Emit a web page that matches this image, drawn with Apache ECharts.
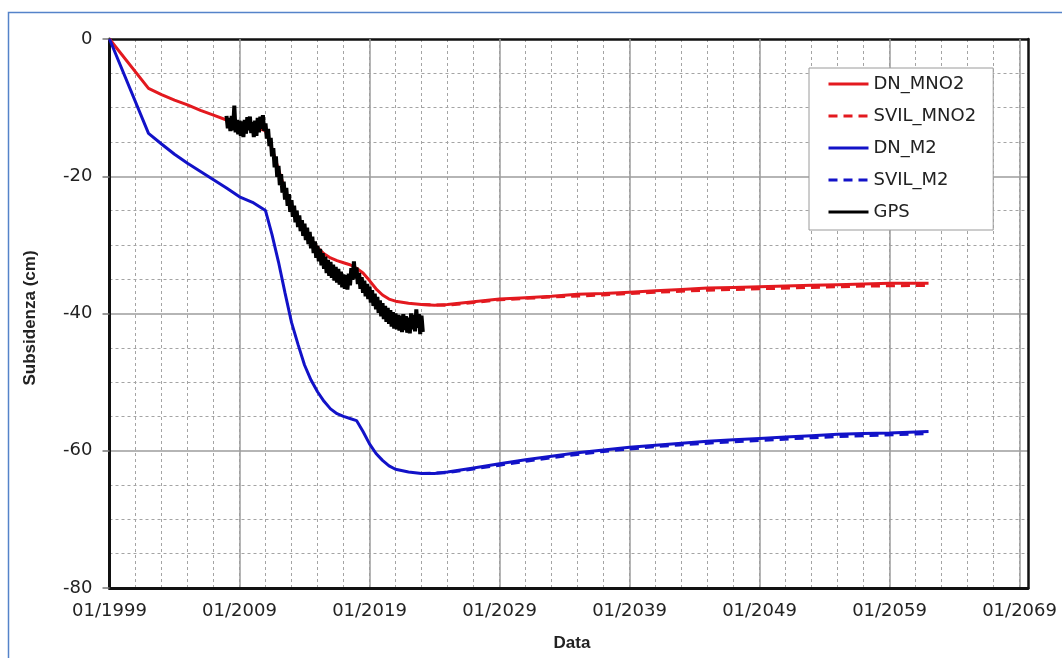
<!DOCTYPE html>
<html>
<head>
<meta charset="utf-8">
<script src="https://cdn.jsdelivr.net/npm/echarts@6/dist/echarts.min.js"></script>
<style>html,body{margin:0;padding:0;background:#fff}#c{width:1062px;height:658px}</style>
</head>
<body>
<div id="c"></div>
<script>
// ---- data (decimal years, subsidence in cm) ----
const xTickYears = [1999, 2009, 2019, 2029, 2039, 2049, 2059, 2069];
const yTicks = [0, -20, -40, -60, -80];

const dnMNO2Years = [1999.0, 2002.0, 2003.0, 2004.0, 2005.0, 2006.0, 2007.0, 2008.0, 2009.0, 2010.0, 2011.0, 2011.5, 2012.0, 2012.5, 2013.0, 2013.5, 2014.0, 2014.5, 2015.0, 2015.5, 2016.0, 2016.5, 2017.0, 2017.5, 2018.0, 2018.5, 2019.0, 2019.5, 2020.0, 2020.5, 2021.0, 2022.0, 2023.0, 2024.0, 2025.0, 2027.0, 2029.0, 2031.0, 2033.0, 2035.0, 2037.0, 2039.0, 2041.0, 2043.0, 2045.0, 2047.0, 2049.0, 2051.0, 2053.0, 2055.0, 2057.0, 2059.0, 2062.0];
const dnMNO2 = [0, -7.2, -8.1, -8.9, -9.6, -10.4, -11.1, -11.8, -12.3, -12.7, -13.4, -16.0, -19.0, -22.0, -24.3, -26.2, -27.8, -29.2, -30.4, -31.3, -31.9, -32.3, -32.6, -32.9, -33.4, -34.1, -35.2, -36.4, -37.3, -37.9, -38.2, -38.5, -38.7, -38.8, -38.7, -38.3, -37.9, -37.7, -37.5, -37.2, -37.1, -36.9, -36.7, -36.5, -36.3, -36.2, -36.1, -36.0, -35.9, -35.8, -35.7, -35.6, -35.6];

const svilMNO2Years = [2023.0, 2025.0, 2027.0, 2029.0, 2033.0, 2037.0, 2041.0, 2045.0, 2049.0, 2053.0, 2057.0, 2062.0];
const svilMNO2 = [-38.7, -38.8, -38.4, -38.0, -37.6, -37.3, -36.9, -36.6, -36.4, -36.2, -36.0, -35.9];

const dnM2Years = [1999.0, 2002.0, 2003.0, 2004.0, 2005.0, 2006.0, 2007.0, 2008.0, 2009.0, 2010.0, 2011.0, 2011.5, 2012.0, 2012.5, 2013.0, 2013.5, 2014.0, 2014.5, 2015.0, 2015.5, 2016.0, 2016.5, 2017.0, 2017.5, 2018.0, 2018.5, 2019.0, 2019.5, 2020.0, 2020.5, 2021.0, 2022.0, 2023.0, 2024.0, 2025.0, 2027.0, 2029.0, 2031.0, 2033.0, 2035.0, 2037.0, 2039.0, 2041.0, 2043.0, 2045.0, 2047.0, 2049.0, 2051.0, 2053.0, 2055.0, 2057.0, 2059.0, 2062.0];
const dnM2 = [0, -13.75, -15.3, -16.8, -18.1, -19.3, -20.5, -21.7, -23.0, -23.8, -25.0, -28.5, -32.5, -37.0, -41.3, -44.5, -47.5, -49.7, -51.4, -52.8, -53.9, -54.6, -55.0, -55.3, -55.6, -57.2, -59.0, -60.4, -61.4, -62.2, -62.7, -63.1, -63.3, -63.3, -63.1, -62.5, -61.9, -61.3, -60.8, -60.3, -59.9, -59.5, -59.2, -58.9, -58.6, -58.4, -58.2, -58.0, -57.8, -57.6, -57.5, -57.4, -57.2];

const svilM2Years = [2023.0, 2025.0, 2029.0, 2033.0, 2037.0, 2041.0, 2045.0, 2049.0, 2053.0, 2057.0, 2062.0];
const svilM2 = [-63.3, -63.2, -62.1, -61.0, -60.1, -59.4, -58.9, -58.5, -58.1, -57.8, -57.5];

const gpsYears = [
  2008.0, 2008.1, 2008.2, 2008.3, 2008.4, 2008.5, 2008.6, 2008.7, 2008.8, 2008.9,
  2009.0, 2009.1, 2009.2, 2009.3, 2009.4, 2009.5, 2009.6, 2009.7, 2009.8, 2009.9,
  2010.0, 2010.1, 2010.2, 2010.3, 2010.4, 2010.5, 2010.6, 2010.7, 2010.8, 2010.9,
  2011.0, 2011.1, 2011.2, 2011.3, 2011.4, 2011.5, 2011.6, 2011.7, 2011.8, 2011.9,
  2012.0, 2012.1, 2012.2, 2012.3, 2012.4, 2012.5, 2012.6, 2012.7, 2012.8, 2012.9,
  2013.0, 2013.1, 2013.2, 2013.3, 2013.4, 2013.5, 2013.6, 2013.7, 2013.8, 2013.9,
  2014.0, 2014.1, 2014.2, 2014.3, 2014.4, 2014.5, 2014.6, 2014.7, 2014.8, 2014.9,
  2015.0, 2015.1, 2015.2, 2015.3, 2015.4, 2015.5, 2015.6, 2015.7, 2015.8, 2015.9,
  2016.0, 2016.1, 2016.2, 2016.3, 2016.4, 2016.5, 2016.6, 2016.7, 2016.8, 2016.9,
  2017.0, 2017.1, 2017.2, 2017.3, 2017.4, 2017.5, 2017.6, 2017.7, 2017.8, 2017.9,
  2018.0, 2018.1, 2018.2, 2018.3, 2018.4, 2018.5, 2018.6, 2018.7, 2018.8, 2018.9,
  2019.0, 2019.1, 2019.2, 2019.3, 2019.4, 2019.5, 2019.6, 2019.7, 2019.8, 2019.9,
  2020.0, 2020.1, 2020.2, 2020.3, 2020.4, 2020.5, 2020.6, 2020.7, 2020.8, 2020.9,
  2021.0, 2021.1, 2021.2, 2021.3, 2021.4, 2021.5, 2021.6, 2021.7, 2021.8, 2021.9,
  2022.0, 2022.1, 2022.2, 2022.3, 2022.4, 2022.5, 2022.6, 2022.7, 2022.8, 2022.9,
  2023.0, 2023.1];
const gps = [
  -11.2, -13.0, -11.5, -13.4, -11.2, -13.3, -9.7, -13.6, -11.8, -13.9,
  -11.9, -14.1, -12.0, -14.3, -11.8, -13.8, -11.4, -13.3, -11.3, -13.7,
  -12.1, -14.3, -11.9, -14.1, -11.5, -13.6, -11.3, -13.1, -11.1, -13.4,
  -12.3, -14.5, -13.1, -15.6, -14.4, -17.1, -15.9, -18.7, -17.1, -20.1,
  -18.5, -21.3, -19.7, -22.4, -20.8, -23.4, -21.7, -24.3, -22.6, -25.2,
  -23.5, -25.9, -24.3, -26.7, -25.0, -27.4, -25.7, -28.0, -26.4, -28.7,
  -26.9, -29.3, -27.5, -29.9, -28.1, -30.5, -28.8, -31.2, -29.5, -31.9,
  -30.1, -32.4, -30.6, -33.0, -31.2, -33.5, -31.7, -34.1, -32.2, -34.5,
  -32.5, -34.8, -32.9, -35.2, -33.2, -35.5, -33.5, -35.8, -33.9, -36.2,
  -34.3, -36.4, -34.4, -36.5, -34.2, -35.9, -33.4, -35.1, -32.4, -34.9,
  -33.3, -35.7, -34.1, -36.4, -34.7, -37.0, -35.2, -37.5, -35.7, -37.9,
  -36.1, -38.4, -36.6, -38.9, -37.1, -39.4, -37.6, -39.9, -38.1, -40.4,
  -38.5, -40.8, -38.9, -41.2, -39.2, -41.5, -39.5, -41.9, -39.8, -42.2,
  -40.0, -42.3, -40.2, -42.5, -40.3, -42.7, -40.1, -42.4, -40.4, -42.8,
  -40.6, -42.9, -40.0, -42.3, -40.2, -42.6, -39.4, -42.1, -40.1, -43.0,
  -40.3, -42.7];

function pairs(xs, ys) { return xs.map((x, i) => [x, ys[i]]); }

const RED = '#e3191f';
const BLUE = '#1212c8';
const FONT = 'DejaVu Sans';
const X_MIN = xTickYears[0];
const X_MAX = 2069.65;

const chart = echarts.init(document.getElementById('c'), null, { renderer: 'canvas' });

const majorGrid = { show: true, showMinLine: false, showMaxLine: false, lineStyle: { color: '#9c9c9c', width: 1.5, type: 'solid' } };
const minorDash = { color: '#a4a4a4', width: 1, type: [3, 3] };

chart.setOption({
  backgroundColor: '#ffffff',
  animation: false,
  grid: { left: 109.5, top: 39, right: 34, bottom: 70, containLabel: false },
  graphic: [
    { type: 'rect', z: -10, shape: { x: 8.5, y: 12.5, width: 1070, height: 700 }, style: { fill: 'none', stroke: '#5583c9', lineWidth: 1.5 } },
    { type: 'text', position: [572, 643], style: { text: 'Data', fontFamily: 'Liberation Sans', fontWeight: 'bold', fontSize: 17, fill: '#222', textAlign: 'center', textVerticalAlign: 'middle' } },
    { type: 'text', rotation: Math.PI / 2, position: [30, 318], style: { text: 'Subsidenza (cm)', fontFamily: 'Liberation Sans', fontWeight: 'bold', fontSize: 17, fill: '#222', textAlign: 'center', textVerticalAlign: 'middle' } }
  ],
  legend: {
    orient: 'vertical',
    left: 809, top: 68,
    backgroundColor: '#ffffff',
    borderColor: '#9a9a9a', borderWidth: 1,
    padding: [6, 17, 8, 18],
    itemWidth: 40, itemHeight: 14, itemGap: 12,
    itemStyle: { opacity: 0, borderWidth: 0 },
    lineStyle: { width: 3 },
    textStyle: { fontFamily: FONT, fontSize: 18, color: '#222', lineHeight: 20 },
    data: ['DN_MNO2', 'SVIL_MNO2', 'DN_M2', 'SVIL_M2', 'GPS']
  },
  xAxis: [
    {
      type: 'value', min: X_MIN, max: X_MAX, interval: 10, position: 'bottom', z: 2,
      axisLine: { show: true, onZero: false, lineStyle: { color: '#111', width: 3 } },
      axisTick: { show: false },
      axisLabel: {
        margin: 14, fontFamily: FONT, fontSize: 18, color: '#222',
        formatter: v => (xTickYears.indexOf(Math.round(v)) >= 0 && Math.abs(v - Math.round(v)) < 1e-6) ? '01/' + Math.round(v) : ''
      },
      splitLine: majorGrid
    },
    {
      type: 'value', min: X_MIN, max: X_MAX, interval: 2, position: 'top', z: 1,
      axisLine: { show: true, onZero: false, lineStyle: { color: '#111', width: 2.5 } },
      axisTick: { show: false },
      axisLabel: { show: false },
      splitLine: { show: true, showMinLine: false, showMaxLine: false, lineStyle: minorDash }
    }
  ],
  yAxis: [
    {
      type: 'value', min: yTicks[yTicks.length - 1], max: yTicks[0], interval: 20, position: 'left', z: 2,
      axisLine: { show: true, onZero: false, lineStyle: { color: '#111', width: 3 } },
      axisTick: { show: true, inside: false, length: 7, lineStyle: { color: '#777', width: 1.5 } },
      axisLabel: { margin: 17, fontFamily: FONT, fontSize: 18, color: '#222' },
      splitLine: majorGrid,
      minorTick: { show: false, splitNumber: 4 },
      minorSplitLine: { show: true, lineStyle: minorDash }
    },
    {
      type: 'value', min: -80, max: 0, interval: 20, position: 'right', z: 2,
      axisLine: { show: true, onZero: false, lineStyle: { color: '#111', width: 2.5 } },
      axisTick: { show: false }, axisLabel: { show: false }, splitLine: { show: false }
    }
  ],
  series: [
    { name: 'DN_MNO2', type: 'line', xAxisIndex: 0, yAxisIndex: 0, symbol: 'none', lineStyle: { color: RED, width: 3 }, itemStyle: { color: RED }, data: pairs(dnMNO2Years, dnMNO2), z: 3 },
    { name: 'SVIL_MNO2', type: 'line', xAxisIndex: 0, yAxisIndex: 0, symbol: 'none', lineStyle: { color: RED, width: 3, type: [9, 6] }, itemStyle: { color: RED }, data: pairs(svilMNO2Years, svilMNO2), z: 3 },
    { name: 'DN_M2', type: 'line', xAxisIndex: 0, yAxisIndex: 0, symbol: 'none', lineStyle: { color: BLUE, width: 3 }, itemStyle: { color: BLUE }, data: pairs(dnM2Years, dnM2), z: 3 },
    { name: 'SVIL_M2', type: 'line', xAxisIndex: 0, yAxisIndex: 0, symbol: 'none', lineStyle: { color: BLUE, width: 3, type: [9, 6] }, itemStyle: { color: BLUE }, data: pairs(svilM2Years, svilM2), z: 3 },
    { name: 'GPS', type: 'line', xAxisIndex: 0, yAxisIndex: 0, symbol: 'none', lineStyle: { color: '#000', width: 4 }, itemStyle: { color: '#000' }, data: pairs(gpsYears, gps), z: 4 }
  ]
});
</script>
</body>
</html>
